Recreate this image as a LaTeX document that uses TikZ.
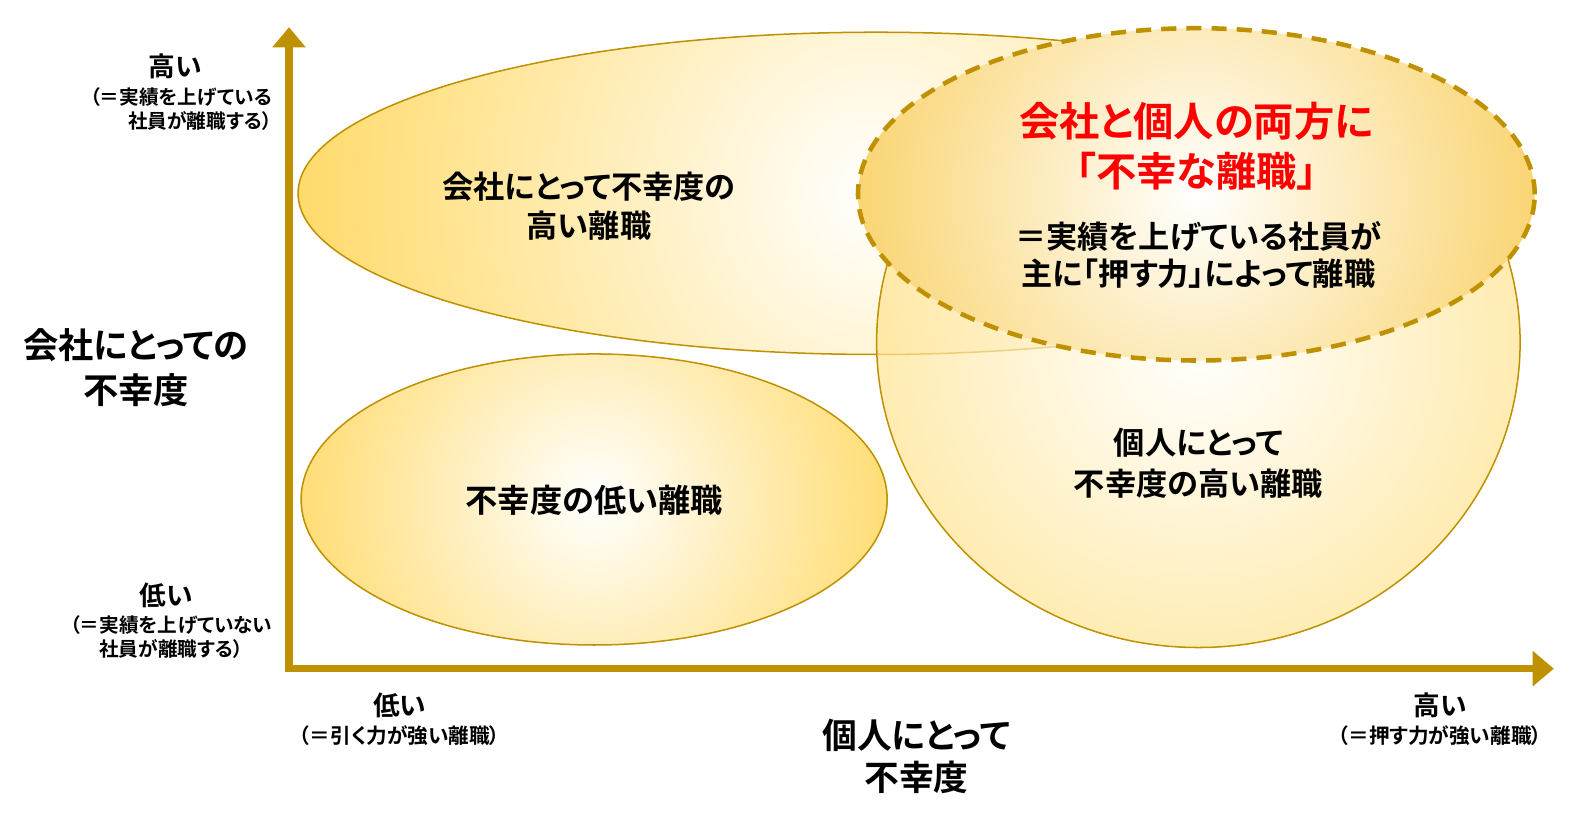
\documentclass[tikz,border=0pt]{standalone}
\usepackage{fontspec}
\setmainfont{Noto Sans CJK JP}[BoldFont={* Bold}, RawFeature=+palt]
\usetikzlibrary{shapes.geometric,arrows.meta}
\definecolor{axisgold}{RGB}{191,144,0}
\definecolor{fillgold}{RGB}{255,217,102}
\definecolor{dashgold}{RGB}{249,208,100}
\definecolor{redtxt}{RGB}{255,0,0}
\tikzset{
  zone/.style={ellipse, draw=axisgold, line width=1.5pt, inner sep=0pt, outer sep=0pt},
  txt/.style={inner sep=0pt, align=center, font=\bfseries\fontsize{31}{39}\selectfont},
  big/.style={inner sep=0pt, align=center, font=\bfseries\fontsize{35}{44}\selectfont},
  lvl/.style={inner sep=0pt, align=center, font=\bfseries\fontsize{26.5}{30}\selectfont},
  sub/.style={inner sep=0pt, font=\bfseries\fontsize{19.5}{24}\selectfont},
}
\begin{document}
\begin{tikzpicture}[x=1pt,y=-1pt]
\useasboundingbox (0,0) rectangle (1568,818);
% axes
\coordinate (ytip) at (287,27);
\coordinate (o) at (287,664);
\coordinate (xtip) at (1543,664);
\draw[axisgold, line width=7pt, line join=miter,
  {Triangle[width=32pt,length=20pt]}-{Triangle[width=34pt,length=21pt]}] (ytip) -- (o) -- (xtip);
% ellipses
\node[zone, minimum width=1148pt, minimum height=320pt,
  path picture={\shade[inner color=white, outer color=fillgold] (path picture bounding box.center) circle (596pt);}] (hico) at (870,192) {};
\node[zone, minimum width=582pt, minimum height=289pt,
  path picture={\shade[inner color=white, outer color=fillgold] (path picture bounding box.center) circle (325pt);}] (low) at (590,496) {};
\node[zone, minimum width=639pt, minimum height=606pt,
  path picture={\shade[fill opacity=0.7, inner color=white, outer color=fillgold] (path picture bounding box.center) circle (441pt);}] (hipe) at (1190,340) {};
\node[zone, draw=axisgold, line width=4.5pt, dash pattern=on 15pt off 10pt, minimum width=672pt, minimum height=330pt,
  path picture={\shade[inner color=white, outer color=dashgold] (path picture bounding box.center) circle (374pt);}] (both) at (1188,193) {};
% texts in ellipses
\node[txt] (thico) at (585,205) {会社にとって不幸度の\\高い離職};
\node[txt, font=\bfseries\fontsize{32}{39}\selectfont] (tlow) at (590,497) {不幸度の低い離職};
\node[txt, font=\bfseries\fontsize{31}{41}\selectfont] (thipe) at (1190,460) {個人にとって\\不幸度の高い離職};
\node[txt, text=redtxt, font=\bfseries\fontsize{40}{50}\selectfont] (tboth) at (1188,145) {会社と個人の両方に\\「不幸な離職」};
\node[txt, font=\bfseries\fontsize{31}{37}\selectfont] (tbothsub) at (1190,253) {＝実績を上げている社員が\\主に「押す力」によって離職};
% y axis labels
\node[lvl] (yhi) at (174,66) {高い};
\node[sub, align=right, anchor=east] (yhisub) at (270,108) {（＝実績を上げている\\社員が離職する）};
\node[big] (ytitle) at (135,365) {会社にとっての\\不幸度};
\node[lvl] (ylo) at (165,591) {低い};
\node[sub, align=center] (ylosub) at (170,633) {（＝実績を上げていない\\社員が離職する）};
% x axis labels
\node[lvl] (xlo) at (397,700) {低い};
\node[sub, font=\bfseries\fontsize{20.5}{24}\selectfont] (xlosub) at (397,730) {（＝引く力が強い離職）};
\node[big, font=\bfseries\fontsize{34.5}{42}\selectfont] (xtitle) at (910,751) {個人にとって\\不幸度};
\node[lvl] (xhi) at (1430,700) {高い};
\node[sub, font=\bfseries\fontsize{20.5}{24}\selectfont] (xhisub) at (1430,730) {（＝押す力が強い離職）};
\end{tikzpicture}
\end{document}
